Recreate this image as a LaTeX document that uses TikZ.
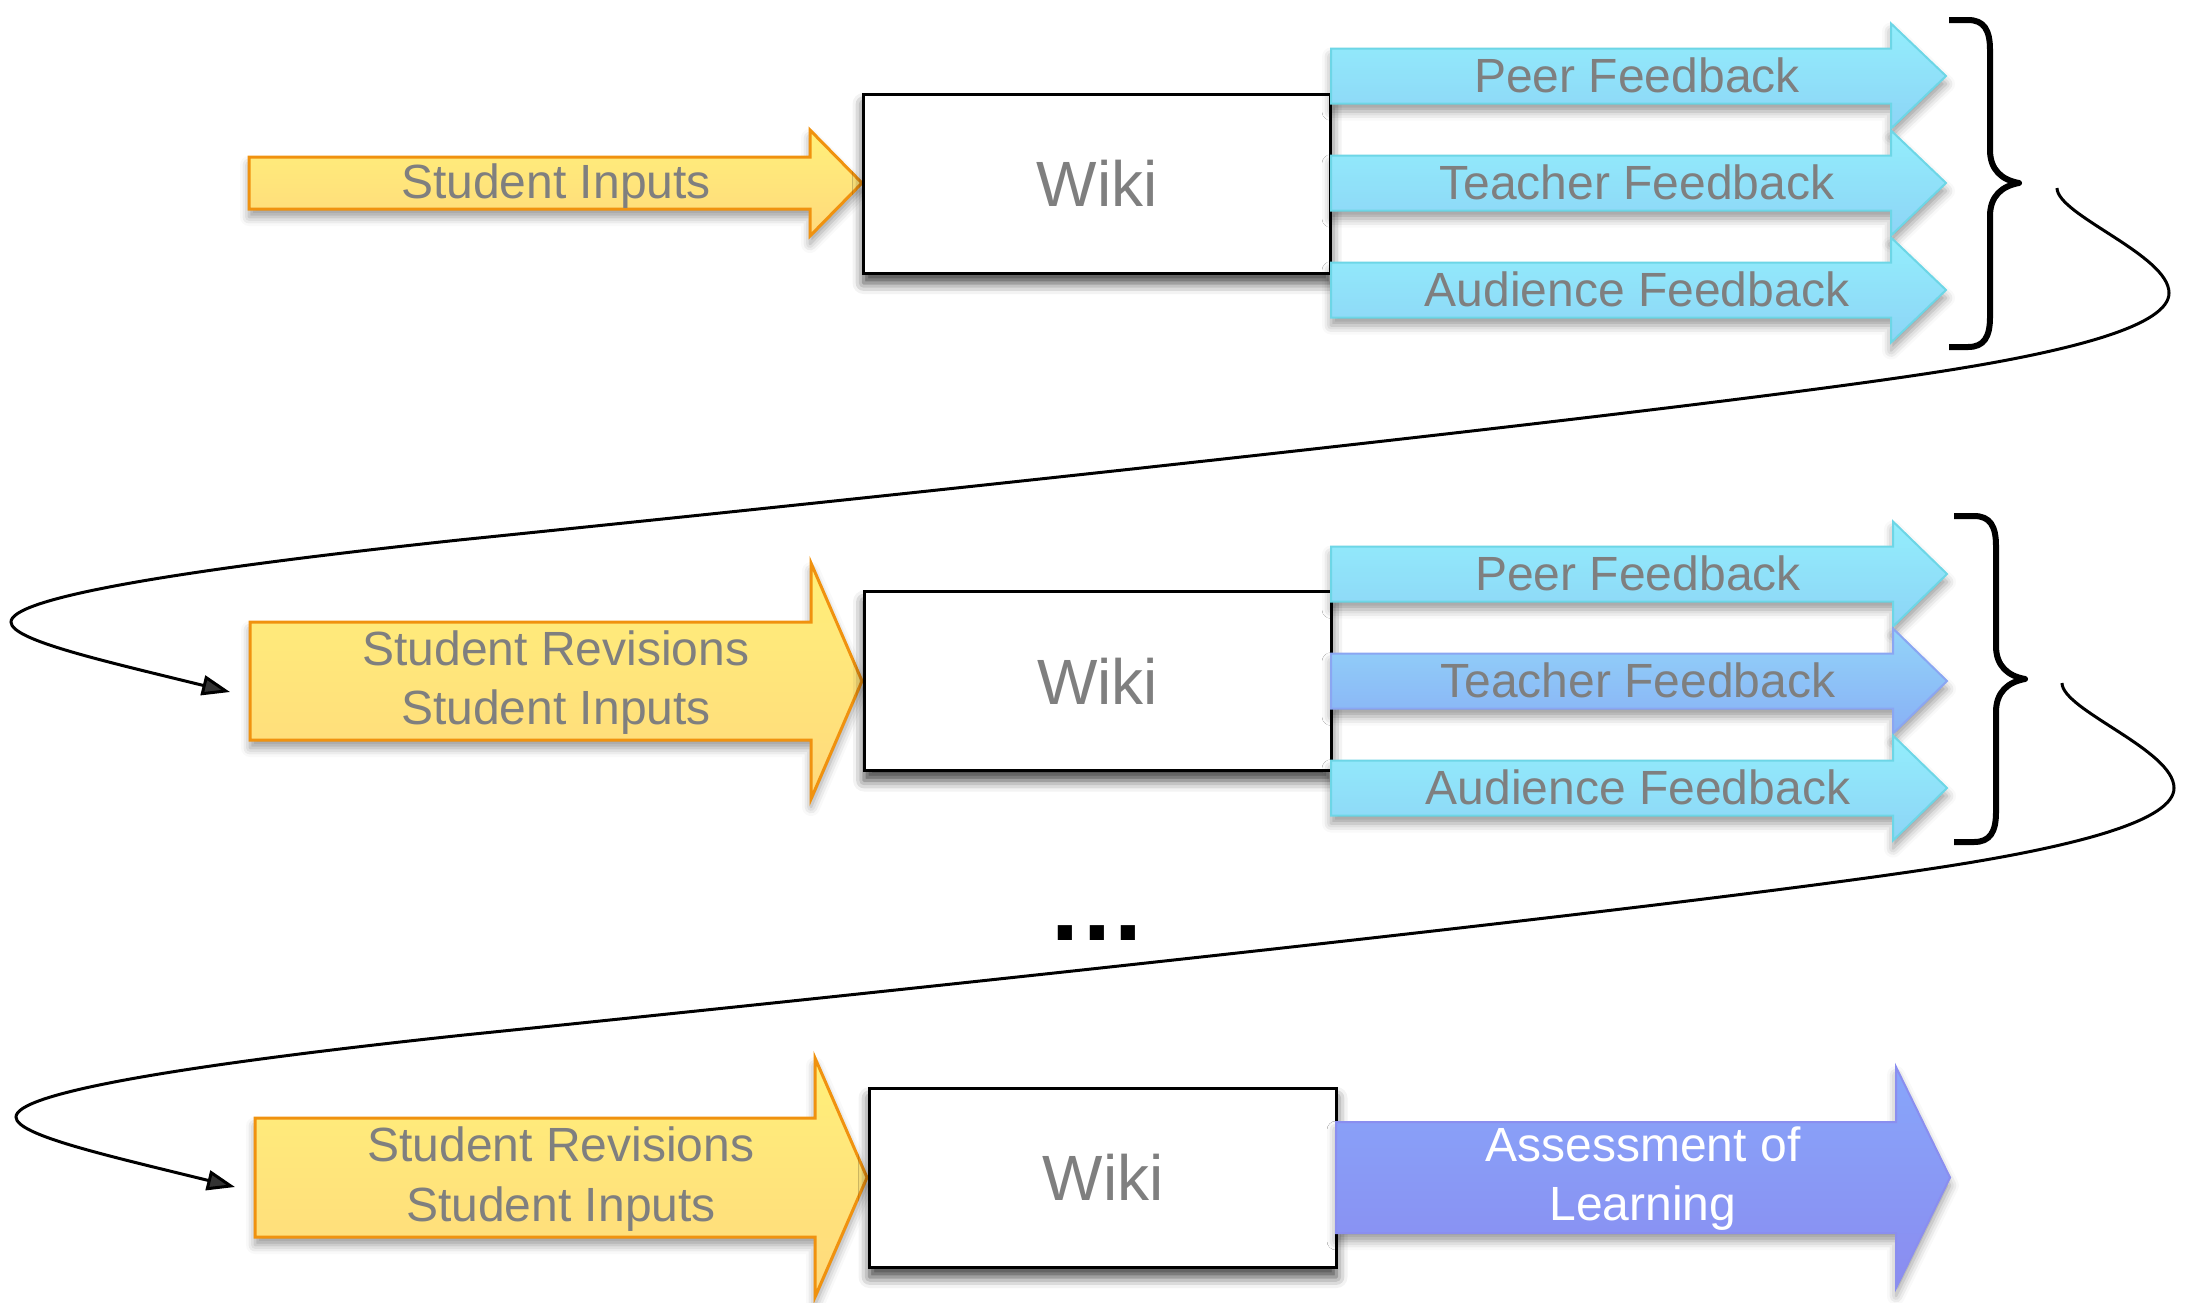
\documentclass[tikz,border=0pt]{standalone}
\usepackage{fontspec}
\setmainfont{Liberation Sans}
\usetikzlibrary{arrows.meta,shadows.blur}
\definecolor{ytop}{HTML}{FFF07A}
\definecolor{ybot}{HTML}{FFD97C}
\definecolor{yborder}{HTML}{F0920F}
\definecolor{ctop}{HTML}{93EEFC}
\definecolor{cbot}{HTML}{8DD4F6}
\definecolor{cborder}{HTML}{6DD6E6}
\definecolor{ttop}{HTML}{93D4F9}
\definecolor{tbot}{HTML}{88B0F5}
\definecolor{tborder}{HTML}{8AA6F2}
\definecolor{atop}{HTML}{88A6FA}
\definecolor{abot}{HTML}{8A8CF0}
\definecolor{aborder}{HTML}{8A8EEF}
\definecolor{txtgray}{HTML}{7F7F7F}
\newcommand\blkarrow[7]{\path[#7] (#1,#4-#5) -- (#2,#4-#5) -- (#2,#4-#6) -- (#3,#4) -- (#2,#4+#6) -- (#2,#4+#5) -- (#1,#4+#5) -- cycle;}
\begin{document}
\begin{tikzpicture}[x=1pt,y=-1pt,
  ashadow/.style={blur shadow={shadow xshift=0pt,shadow yshift=-8pt,shadow blur radius=9pt,shadow opacity=40}},
  yarrow/.style={draw=yborder,line width=3pt,line join=miter,top color=ytop,bottom color=ybot,ashadow},
  carrow/.style={draw=cborder,line width=2pt,line join=miter,top color=ctop,bottom color=cbot,ashadow},
  tarrow/.style={draw=tborder,line width=2pt,line join=miter,top color=ttop,bottom color=tbot,ashadow},
  aarrow/.style={draw=aborder,line width=2pt,line join=miter,top color=atop,bottom color=abot,ashadow},
  wikibox/.style={draw=black,line width=3pt,fill=white,minimum width=467pt,minimum height=179pt,inner sep=0pt,
    font=\fontsize{64}{70}\selectfont,text=txtgray,
    blur shadow={shadow xshift=0pt,shadow yshift=-10pt,shadow blur radius=11pt,shadow opacity=75}},
  lbl/.style={font=\fontsize{48}{59}\selectfont,text=txtgray,inner sep=0pt,align=center},
  bracepath/.style={line width=6pt,line join=round},
  loop/.style={line width=3pt,-{Triangle[length=28pt,width=20pt]}}
]
\useasboundingbox (0,0) rectangle (2187,1302);

% ---------- row 1 ----------
\blkarrow{249}{810}{862}{183}{26}{53}{yarrow}
\node[lbl,anchor=base] (si1) at (556,198) {Student Inputs};
\node[wikibox] (w1) at (1097,183.5) {Wiki};
\blkarrow{1331}{1891}{1946}{76}{27.5}{52.5}{carrow}
\blkarrow{1331}{1891}{1946}{183}{27.5}{52.5}{carrow}
\blkarrow{1331}{1891}{1946}{290}{27.5}{52.5}{carrow}
\node[lbl,anchor=base] (pf1) at (1637,92) {Peer Feedback};
\node[lbl,anchor=base] (tf1) at (1637,199) {Teacher Feedback};
\node[lbl,anchor=base] (af1) at (1637,306) {Audience Feedback};
\draw[bracepath] (1949,20) -- (1968,20) .. controls (1984,20) and (1990,30) .. (1990,50) -- (1990,150)
  .. controls (1990,170) and (2002,180) .. (2019,183) .. controls (2002,186) and (1990,196) .. (1990,216)
  -- (1990,317) .. controls (1990,337) and (1984,347) .. (1968,347) -- (1949,347);

% ---------- row 2 ----------
\blkarrow{250}{811}{862}{681}{59}{118}{yarrow}
\node[lbl,anchor=north] (si2) at (556,631) {Student Revisions\\Student Inputs};
\node[wikibox] (w2) at (1097.5,681) {Wiki};
\blkarrow{1331}{1893}{1947}{574}{27.5}{52.5}{carrow}
\blkarrow{1331}{1893}{1947}{681}{27.5}{52.5}{tarrow}
\blkarrow{1331}{1893}{1947}{788}{27.5}{52.5}{carrow}
\node[lbl,anchor=base] (pf2) at (1638,590) {Peer Feedback};
\node[lbl,anchor=base] (tf2) at (1638,697) {Teacher Feedback};
\node[lbl,anchor=base] (af2) at (1638,804) {Audience Feedback};
\draw[bracepath] (1954,516) -- (1974,516) .. controls (1990,516) and (1996,526) .. (1996,546) -- (1996,646)
  .. controls (1996,666) and (2008,676) .. (2025,679) .. controls (2008,682) and (1996,692) .. (1996,712)
  -- (1996,812) .. controls (1996,832) and (1990,842) .. (1974,842) -- (1954,842);

% ---------- dots ----------
\node[font=\fontsize{100}{100}\selectfont\bfseries,inner sep=0pt,anchor=base] (dots) at (1097,940) {.\kern4pt.\kern4pt.};

% ---------- row 3 ----------
\blkarrow{255}{815}{867}{1177.5}{59.5}{119.5}{yarrow}
\node[lbl,anchor=north] (si3) at (561,1127) {Student Revisions\\Student Inputs};
\node[wikibox] (w3) at (1103,1177.5) {Wiki};
\blkarrow{1336}{1896}{1950}{1177.5}{55.5}{110.5}{aarrow}
\node[lbl,anchor=north,text=white] (al) at (1643,1127) {Assessment of\\Learning};

% ---------- loop connectors ----------
\coordinate (l1s) at (2057,188);
\coordinate (l1e) at (230,692);
\coordinate (l2s) at (2062,683);
\coordinate (l2e) at (235,1187);
\draw[loop] (l1s) .. controls (2057,215) and (2169,255) .. (2169,293)
  .. controls (2169,325) and (2075,350) .. (1950,370)
  .. controls (1700,410) and (900,495) .. (459,540)
  .. controls (150,573) and (11,600) .. (11,622)
  .. controls (11,640) and (100,660) .. (l1e);
\draw[loop] (l2s) .. controls (2062,710) and (2174,750) .. (2174,788)
  .. controls (2174,820) and (2080,845) .. (1955,865)
  .. controls (1705,905) and (905,990) .. (464,1035)
  .. controls (155,1068) and (16,1095) .. (16,1117)
  .. controls (16,1135) and (105,1155) .. (l2e);
\end{tikzpicture}
\end{document}
